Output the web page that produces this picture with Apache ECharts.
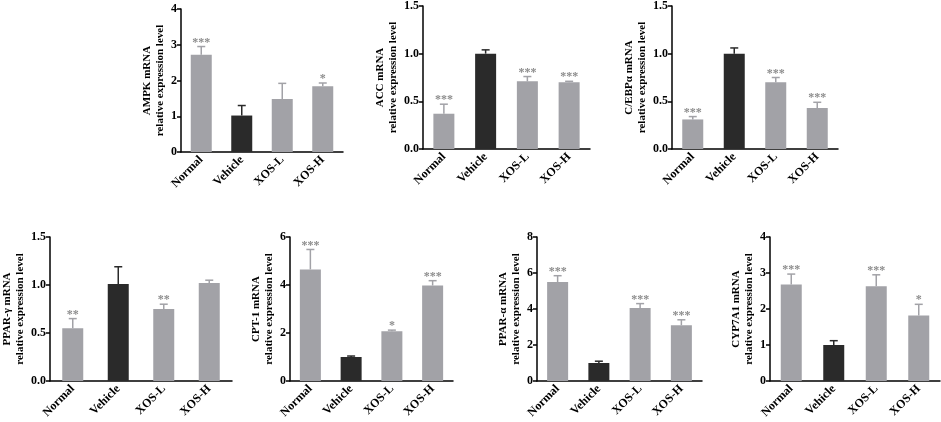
<!DOCTYPE html>
<html>
<head>
<meta charset="utf-8">
<script src="https://cdn.jsdelivr.net/npm/echarts@6/dist/echarts.min.js"></script>
<style>
  html, body { margin: 0; padding: 0; background: #fff; }
  #chart { width: 941px; height: 422px; }
</style>
</head>
<body>
<div id="chart"></div>
<script>
// groups on every x axis
const categories = ['Normal', 'Vehicle', 'XOS-L', 'XOS-H']

// mean relative expression, upper SD and significance marks per gene
const ampkMean = [2.72, 1.02, 1.48, 1.84]
const ampkSd = [0.23, 0.28, 0.44, 0.09]
const ampkSig = ['***', '', '', '*']

const accMean = [0.37, 1.0, 0.71, 0.70]
const accSd = [0.10, 0.04, 0.05, 0.01]
const accSig = ['***', '', '***', '***']

const cebpaMean = [0.31, 1.0, 0.70, 0.43]
const cebpaSd = [0.03, 0.06, 0.05, 0.06]
const cebpaSig = ['***', '', '***', '***']

const ppargMean = [0.55, 1.01, 0.75, 1.02]
const ppargSd = [0.10, 0.18, 0.05, 0.03]
const ppargSig = ['**', '', '**', '']

const cpt1Mean = [4.65, 1.0, 2.07, 3.98]
const cpt1Sd = [0.83, 0.04, 0.05, 0.20]
const cpt1Sig = ['***', '', '*', '***']

const pparaMean = [5.5, 1.0, 4.05, 3.1]
const pparaSd = [0.35, 0.10, 0.25, 0.30]
const pparaSig = ['***', '', '***', '***']

const cyp7a1Mean = [2.68, 1.0, 2.63, 1.82]
const cyp7a1Sd = [0.29, 0.12, 0.32, 0.31]
const cyp7a1Sig = ['***', '', '***', '*']

// y axis ranges / ticks
const yMax = [4, 1.5, 1.5, 1.5, 6, 8, 4]
const yStep = [1, 0.5, 0.5, 0.5, 2, 2, 1]
const yDigits = [0, 1, 1, 1, 0, 0, 0]

const geneNames = ['AMPK mRNA', 'ACC mRNA', 'C/EBPα mRNA', 'PPAR-γ mRNA', 'CPT-1 mRNA', 'PPAR-α mRNA', 'CYP7A1 mRNA']

const panels = [
  { mean: ampkMean, sd: ampkSd, sig: ampkSig, grid: [181, 9, 162, 143], gap: 13 },
  { mean: accMean, sd: accSd, sig: accSig, grid: [423, 6, 167, 143], gap: 22 },
  { mean: cebpaMean, sd: cebpaSd, sig: cebpaSig, grid: [672, 6, 166, 143], gap: 21 },
  { mean: ppargMean, sd: ppargSd, sig: ppargSig, grid: [49, 237, 183, 144], gap: 23 },
  { mean: cpt1Mean, sd: cpt1Sd, sig: cpt1Sig, grid: [290, 237, 163, 144], gap: 12 },
  { mean: pparaMean, sd: pparaSd, sig: pparaSig, grid: [537, 237, 165, 144], gap: 9 },
  { mean: cyp7a1Mean, sd: cyp7a1Sd, sig: cyp7a1Sig, grid: [770, 237, 170, 144], gap: 11 }
]

const FONT = "'Liberation Serif', 'Times New Roman', serif"
const GRAY = '#a2a2a7'
const BLACK = '#2a2a2a'
const STAR = '#8c8c8c'

const grids = []
const xAxes = []
const yAxes = []
const series = []

panels.forEach((p, k) => {
  grids.push({ left: p.grid[0], top: p.grid[1], width: p.grid[2], height: p.grid[3] })

  xAxes.push({
    gridIndex: k,
    type: 'category',
    data: categories,
    axisLine: { lineStyle: { color: '#000', width: 1.5 } },
    axisTick: { alignWithLabel: true, length: 4, lineStyle: { color: '#000', width: 1.5 } },
    axisLabel: { rotate: 45, margin: 6, color: '#000', fontFamily: FONT, fontWeight: 'bold', fontSize: 12 }
  })

  yAxes.push({
    gridIndex: k,
    type: 'value',
    min: 0,
    max: yMax[k],
    interval: yStep[k],
    name: geneNames[k] + '\nrelative expression level',
    nameLocation: 'middle',
    nameGap: p.gap,
    nameTextStyle: { color: '#000', fontFamily: FONT, fontWeight: 'bold', fontSize: 11, lineHeight: 13 },
    splitLine: { show: false },
    axisLine: { show: true, lineStyle: { color: '#000', width: 1.5 } },
    axisTick: { show: true, length: 4, lineStyle: { color: '#000', width: 1.5 } },
    axisLabel: {
      margin: 4,
      color: '#000',
      fontFamily: FONT,
      fontWeight: 'bold',
      fontSize: 12,
      formatter: v => v.toFixed(yDigits[k])
    }
  })

  series.push({
    type: 'bar',
    xAxisIndex: k,
    yAxisIndex: k,
    barWidth: 21,
    data: p.mean.map((v, i) => ({
      value: v,
      itemStyle: { color: categories[i] === 'Vehicle' ? BLACK : GRAY }
    }))
  })

  // upper error bar with cap, and the stars above it
  series.push({
    type: 'custom',
    xAxisIndex: k,
    yAxisIndex: k,
    z: 3,
    data: p.mean.map((v, i) => [i, v, v + p.sd[i]]),
    renderItem: (params, api) => {
      const i = params.dataIndex
      const base = api.coord([api.value(0), api.value(1)])
      const top = api.coord([api.value(0), api.value(2)])
      const color = categories[i] === 'Vehicle' ? BLACK : GRAY
      const children = [
        {
          type: 'line',
          shape: { x1: base[0], y1: base[1], x2: top[0], y2: top[1] },
          style: { stroke: color, lineWidth: 1.5 }
        },
        {
          type: 'line',
          shape: { x1: top[0] - 4, y1: top[1], x2: top[0] + 4, y2: top[1] },
          style: { stroke: color, lineWidth: 1.5 }
        }
      ]
      if (p.sig[i]) {
        children.push({
          type: 'text',
          style: {
            x: top[0],
            y: top[1] + 2,
            text: p.sig[i],
            align: 'center',
            verticalAlign: 'bottom',
            fill: STAR,
            font: 'bold 12px ' + FONT
          }
        })
      }
      return { type: 'group', children }
    }
  })
})

const chart = echarts.init(document.getElementById('chart'))
chart.setOption({
  animation: false,
  grid: grids,
  xAxis: xAxes,
  yAxis: yAxes,
  series
})
</script>
</body>
</html>
